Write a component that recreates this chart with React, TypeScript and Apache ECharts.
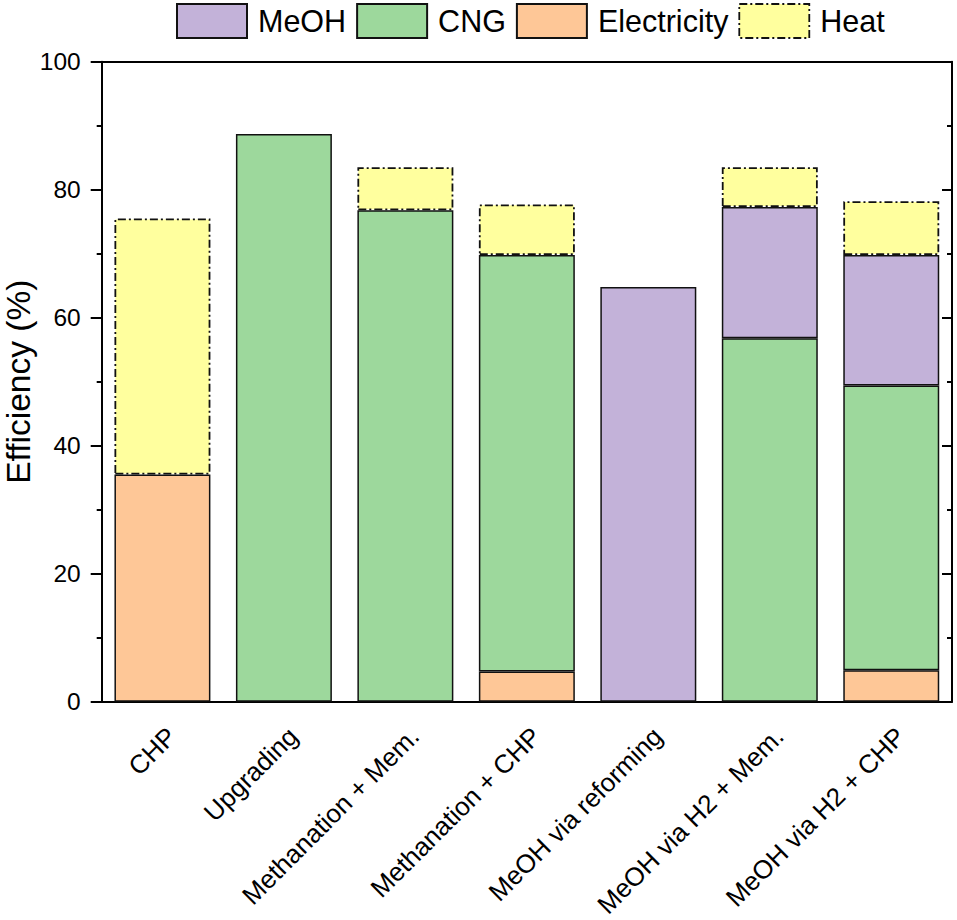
import React, { useEffect, useRef } from "react";
import * as echarts from "echarts";

const categories = [
  "CHP",
  "Upgrading",
  "Methanation + Mem.",
  "Methanation + CHP",
  "MeOH via reforming",
  "MeOH via H2 + Mem.",
  "MeOH via H2 + CHP",
];
const electricity = [35.5, null, null, 4.7, null, null, 4.9];
const cng = [null, 88.7, 76.8, 65.1, null, 56.8, 44.5];
const meoh = [null, null, null, null, 64.8, 20.5, 20.4];
const heat = [40.0, null, 6.7, 7.9, null, 6.2, 8.4];
const yTicks = [0, 20, 40, 60, 80, 100];

const FONT = "'Liberation Sans', Arial, sans-serif";
const DASH = [8, 3, 2, 3];

export default function App() {
  const ref = useRef<HTMLDivElement>(null);
  useEffect(() => {
    if (!ref.current) return;
    const chart = echarts.init(ref.current, null, { renderer: "svg" });
    const lineStyle = { color: "#000", width: 2 };
    const baseBar = (name: string, data: any[], color: string, dashed = false) => ({
      name,
      type: "bar",
      stack: "total",
      data: data.map((v) => (v === null ? "-" : v)),
      barWidth: "79%",
      itemStyle: {
        color,
        borderColor: "#111",
        borderWidth: dashed ? 1.8 : 1.5,
        borderType: dashed ? DASH : "solid",
      },
    });
    chart.setOption({
      animation: false,
      textStyle: { fontFamily: FONT },
      legend: {
        top: 3,
        left: 176,
        padding: 0,
        itemWidth: 70,
        itemHeight: 34,
        itemGap: 10,
        icon: "rect",
        data: [
          { name: "MeOH" },
          { name: "CNG" },
          { name: "Electricity" },
          { name: "Heat", itemStyle: { borderType: DASH, borderWidth: 1.8, borderColor: "#111" } },
        ],
        textStyle: { fontSize: 30.5, color: "#000", fontFamily: FONT, padding: [0, 0, 0, 6] },
      },
      grid: {
        left: 101.7,
        right: 5,
        top: 61.7,
        bottom: 218.3,
        containLabel: false,
        outerBoundsMode: "none",
      },
      xAxis: [
        {
          type: "category",
          data: categories,
          position: "bottom",
          axisLine: { lineStyle },
          axisTick: { alignWithLabel: true, length: 11.5, lineStyle },
          axisLabel: {
            rotate: 45,
            fontSize: 26,
            color: "#000",
            margin: 21,
            verticalAlign: "top",
            fontFamily: FONT,
          },
        },
        {
          type: "category",
          data: categories,
          position: "bottom",
          axisLine: { show: false },
          axisTick: { alignWithLabel: false, length: 5, lineStyle },
          axisLabel: { show: false },
        },
        {
          type: "category",
          data: categories,
          position: "top",
          axisLine: { lineStyle },
          axisTick: { alignWithLabel: true, inside: true, length: 10, lineStyle },
          axisLabel: { show: false },
        },
        {
          type: "category",
          data: categories,
          position: "top",
          axisLine: { show: false },
          axisTick: { alignWithLabel: false, inside: true, length: 5, lineStyle },
          axisLabel: { show: false },
        },
      ],
      yAxis: [
        {
          type: "value",
          min: yTicks[0],
          max: yTicks[yTicks.length - 1],
          interval: 20,
          position: "left",
          name: "Efficiency (%)",
          nameLocation: "middle",
          nameGap: 66,
          nameMoveOverlap: false,
          nameTextStyle: { fontSize: 33.5, color: "#000", fontFamily: FONT },
          axisLine: { show: true, lineStyle },
          axisTick: { show: true, length: 11, lineStyle },
          minorTick: { show: true, splitNumber: 2, length: 5, lineStyle },
          splitLine: { show: false },
          axisLabel: { fontSize: 24.5, color: "#000", margin: 21, fontFamily: FONT },
        },
        {
          type: "value",
          min: yTicks[0],
          max: yTicks[yTicks.length - 1],
          interval: 20,
          position: "right",
          axisLine: { show: true, lineStyle },
          axisTick: { show: true, inside: true, length: 10, lineStyle },
          minorTick: { show: true, splitNumber: 2, length: 5, lineStyle },
          splitLine: { show: false },
          axisLabel: { show: false },
        },
      ],
      series: [
        baseBar("Electricity", electricity, "#FEC797"),
        baseBar("CNG", cng, "#9DD89C"),
        baseBar("MeOH", meoh, "#C3B2D9"),
        baseBar("Heat", heat, "#FFFF9E", true),
      ],
    });
    return () => chart.dispose();
  }, []);
  return (
    <div
      ref={ref}
      style={{ position: "absolute", left: 0, top: 0, width: 957, height: 920 }}
    />
  );
}
